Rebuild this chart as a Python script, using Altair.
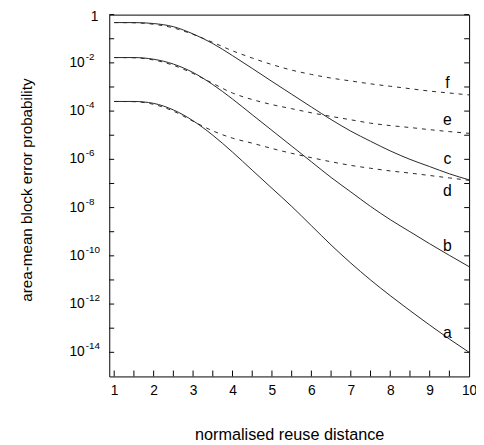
import altair as alt
import pandas as pd

# normalised reuse distance samples
x_vals = [1, 1.5, 2, 2.5, 3, 3.5, 4, 4.5, 5, 5.5, 6, 6.5, 7, 7.5, 8, 8.5, 9, 9.5, 10]

# log10 of area-mean block error probability
a_exp = [-3.6, -3.6, -3.68, -3.95, -4.4, -5.0, -5.7, -6.45, -7.2, -7.95, -8.75, -9.55, -10.3, -11.0, -11.65, -12.27, -12.87, -13.45, -14.0]
b_exp = [-1.78, -1.78, -1.85, -2.05, -2.4, -2.9, -3.5, -4.15, -4.8, -5.45, -6.1, -6.75, -7.35, -7.95, -8.5, -9.0, -9.5, -9.98, -10.45]
c_exp = [-0.33, -0.33, -0.37, -0.5, -0.8, -1.2, -1.7, -2.23, -2.77, -3.3, -3.83, -4.35, -4.83, -5.25, -5.65, -6.0, -6.3, -6.6, -6.85]
d_exp = [-3.6, -3.61, -3.72, -4.0, -4.42, -4.82, -5.12, -5.33, -5.55, -5.75, -5.93, -6.1, -6.25, -6.37, -6.48, -6.57, -6.67, -6.77, -6.87]
e_exp = [-1.78, -1.79, -1.88, -2.1, -2.44, -2.85, -3.25, -3.52, -3.73, -3.9, -4.07, -4.22, -4.36, -4.5, -4.6, -4.68, -4.77, -4.85, -4.92]
f_exp = [-0.33, -0.34, -0.4, -0.55, -0.82, -1.15, -1.5, -1.8, -2.07, -2.3, -2.48, -2.63, -2.75, -2.87, -2.97, -3.07, -3.17, -3.25, -3.33]

# curve letters and where they sit
letters = ["f", "e", "c", "d", "b", "a"]
letter_x = [9.45, 9.45, 9.45, 9.45, 9.45, 9.45]
letter_exp = [-2.85, -4.39, -5.98, -7.32, -9.6, -13.2]

# axis ticks / labels
x_label_vals = [1, 2, 3, 4, 5, 6, 7, 8, 9, 10]
x_tick_vals = [1, 1.5, 2, 2.5, 3, 3.5, 4, 4.5, 5, 5.5, 6, 6.5, 7, 7.5, 8, 8.5, 9, 9.5]
y_decades = [0, -1, -2, -3, -4, -5, -6, -7, -8, -9, -10, -11, -12, -13, -14]
y_label_exps = [-2, -4, -6, -8, -10, -12, -14]

FONT = "Liberation Sans"
W, H = 366, 368

rows = []
for name, vals, style in [("a", a_exp, "solid"), ("b", b_exp, "solid"), ("c", c_exp, "solid"),
                          ("d", d_exp, "dashed"), ("e", e_exp, "dashed"), ("f", f_exp, "dashed")]:
    for x, v in zip(x_vals, vals):
        rows.append({"x": x, "y": 10.0 ** v, "curve": name, "style": style})
df = pd.DataFrame(rows)

letters_df = pd.DataFrame({"x": letter_x, "y": [10.0 ** v for v in letter_exp], "t": letters})
xt_df = pd.DataFrame({"x": x_tick_vals})
yt_df = pd.DataFrame({"y": [10.0 ** v for v in y_decades]})
yl_df = pd.DataFrame({"y": [10.0 ** v for v in y_label_exps],
                      "base": ["10"] * len(y_label_exps),
                      "sup": ["-" + str(-v) for v in y_label_exps]})
one_df = pd.DataFrame({"y": [1.0], "t": ["1"]})

xscale = alt.Scale(domain=[0.875, 10], nice=False, zero=False)
yscale = alt.Scale(type="log", domain=[1e-15, 1], nice=False)

x_axis = alt.Axis(values=x_label_vals, ticks=False, domain=False, grid=False,
                  labelFont=FONT, labelFontSize=14, labelColor="black", labelPadding=7,
                  labelFlush=False, title="normalised reuse distance",
                  titleFont=FONT, titleFontSize=16.5, titleFontWeight="normal", titleColor="black",
                  titleX=W / 2, titleY=59, titleBaseline="middle", titleAlign="center")
y_axis = alt.Axis(labels=False, ticks=False, domain=False, grid=False,
                  title="area-mean block error probability",
                  titleFont=FONT, titleFontSize=15.5, titleFontWeight="normal", titleColor="black",
                  titleAngle=-90, titleX=-84, titleY=H / 2 - 6, titleBaseline="middle", titleAlign="center")

base = alt.Chart(df)
solid = base.transform_filter(alt.datum.style == "solid").mark_line(
    color="#262626", strokeWidth=1, interpolate="monotone"
).encode(
    x=alt.X("x:Q", scale=xscale, axis=x_axis),
    y=alt.Y("y:Q", scale=yscale, axis=y_axis),
    detail="curve:N",
)
dashed = base.transform_filter(alt.datum.style == "dashed").mark_line(
    color="#262626", strokeWidth=1, strokeDash=[4, 5], interpolate="monotone"
).encode(
    x=alt.X("x:Q", scale=xscale),
    y=alt.Y("y:Q", scale=yscale),
    detail="curve:N",
)

letter_text = alt.Chart(letters_df).mark_text(
    font=FONT, fontSize=16, color="black", align="center", baseline="middle"
).encode(x=alt.X("x:Q", scale=xscale), y=alt.Y("y:Q", scale=yscale), text="t:N")

x_ticks = alt.Chart(xt_df).mark_rule(color="black", strokeWidth=1).encode(
    x=alt.X("x:Q", scale=xscale),
    y=alt.value(H),
    y2=alt.value(H - 6),
)
y_ticks_left = alt.Chart(yt_df).mark_rule(color="black", strokeWidth=1).encode(
    y=alt.Y("y:Q", scale=yscale), x=alt.value(0), x2=alt.value(5)
)
y_ticks_right = alt.Chart(yt_df).mark_rule(color="black", strokeWidth=1).encode(
    y=alt.Y("y:Q", scale=yscale), x=alt.value(W - 5), x2=alt.value(W)
)

y_base = alt.Chart(yl_df).mark_text(
    font=FONT, fontSize=14, color="black", align="right", baseline="middle"
).encode(y=alt.Y("y:Q", scale=yscale), x=alt.value(-25), text="base:N")
y_sup = alt.Chart(yl_df).mark_text(
    font=FONT, fontSize=10, color="black", align="left", baseline="middle", dy=-6
).encode(y=alt.Y("y:Q", scale=yscale), x=alt.value(-24), text="sup:N")
y_one = alt.Chart(one_df).mark_text(
    font=FONT, fontSize=14, color="black", align="right", baseline="middle", dy=2
).encode(y=alt.Y("y:Q", scale=yscale), x=alt.value(-11), text="t:N")

chart = alt.layer(
    solid, dashed, x_ticks, y_ticks_left, y_ticks_right, letter_text, y_base, y_sup, y_one
).properties(
    width=W, height=H,
    autosize=alt.AutoSizeParams(type="none"),
    padding={"left": 103, "top": 3, "right": 7, "bottom": 66},
).configure_view(stroke="black", strokeWidth=1)

chart.save("out.html", embed_options={"renderer": "svg", "actions": False})
